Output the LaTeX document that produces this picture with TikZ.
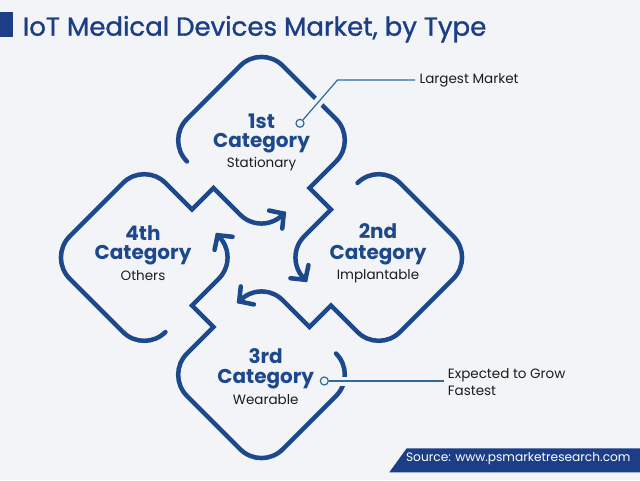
\documentclass[tikz,border=0pt]{standalone}
\usepackage{fontspec}
\setmainfont{Poppins}
\newfontfamily\titlefont{Poppins}[FakeBold=1.2]
\usetikzlibrary{calc}
\definecolor{bgc}{RGB}{242,244,248}
\definecolor{shapeblue}{RGB}{29,72,140}
\definecolor{titleblue}{RGB}{28,62,134}
\definecolor{leadblue}{RGB}{46,106,156}
\definecolor{txtdark}{RGB}{28,28,30}
\begin{document}
\begin{tikzpicture}[x=1pt,y=1pt,
  shapeline/.style={draw=shapeblue, line width=4.5pt, line cap=round, line join=miter},
  cat/.style={font=\bfseries\fontsize{20}{22}\selectfont, text=shapeblue, inner sep=0pt, anchor=base},
  sub/.style={font=\fontsize{13.5}{15}\selectfont, text=txtdark, inner sep=0pt, anchor=base},
  note/.style={font=\fontsize{13.5}{17.7}\selectfont, text=txtdark, inner sep=0pt, align=left},
  leader/.style={draw=leadblue, line width=1.2pt},
  gap/.style={draw=bgc, line width=9pt},
  dot/.style={circle, draw=leadblue, fill=bgc, line width=1.2pt, minimum size=8pt, inner sep=0pt}
]
\fill[bgc] (0,0) rectangle (640,480);
\useasboundingbox (0,0) rectangle (640,480);
% title
\fill[titleblue] (0,442.7) rectangle (13,467.7);
\node[font=\titlefont\fontsize{26}{30}\selectfont, text=titleblue, inner sep=0pt, anchor=base west] (title) at (22.7,444.3) {IoT Medical Devices Market, by Type};
% pinwheel
\coordinate (O) at (261.5,222.5);
\foreach \k in {0,1,2,3}{
 \begin{scope}[shift={(O)}, rotate=-90*\k]
   \draw[shapeline] (-74.54,96.04) arc[start angle=225,end angle=135,radius=30]
     -- (-21.21,191.78) arc[start angle=135,end angle=45,radius=30]
     -- (74.53,138.46) arc[start angle=45,end angle=-45,radius=30]
     -- (48,69.5) -- (69.5,48) -- (42.72,21.21)
     arc[start angle=135,end angle=228,radius=30] coordinate (tip\k);
   \draw[shapeline] (tip\k) ++(78:15) -- (tip\k) -- ++(174:15);
 \end{scope}
}
% labels
\node[cat] (n1) at (261.5,351.7) {1st};
\node[cat] (c1) at (261.5,332.7) {Category};
\node[sub] (s1) at (261.5,312.7) {Stationary};
\node[cat] (n2) at (378,241.7) {2nd};
\node[cat] (c2) at (378,220.7) {Category};
\node[sub] (s2) at (378,200.7) {Implantable};
\node[cat] (n3) at (265.7,116.7) {3rd};
\node[cat] (c3) at (265.7,96.7) {Category};
\node[sub] (s3) at (265.7,76) {Wearable};
\node[cat] (n4) at (143,240) {4th};
\node[cat] (c4) at (143,220) {Category};
\node[sub] (s4) at (143,199.3) {Others};
% leader 1
\node[dot] (d1) at (300,356.7) {};
\coordinate (e1) at (337.5,400);
\coordinate (f1) at (415,400);
\draw[gap] ($(d1)!0.35!(e1)$) -- ($(d1)!0.65!(e1)$);
\draw[leader] (d1) -- (e1) -- (f1);
\node[note, anchor=west] (t1) at (419.3,400) {Largest Market};
% leader 3
\node[dot] (d3) at (324.3,99) {};
\coordinate (f3) at (444.3,99);
\draw[gap] (336,99) -- (354,99);
\draw[leader] (d3) -- (f3);
\node[note, anchor=west] (t3) at (447.7,98) {Expected to Grow\\Fastest};
% source banner
\fill[titleblue] (389.3,7.7) -- (406.7,31.7) -- (640,31.7) -- (640,7.7) -- cycle;
\node[font=\fontsize{12.2}{14}\selectfont, text=white, inner sep=0pt] (src) at (518.3,21) {Source: www.psmarketresearch.com};
\end{tikzpicture}
\end{document}
